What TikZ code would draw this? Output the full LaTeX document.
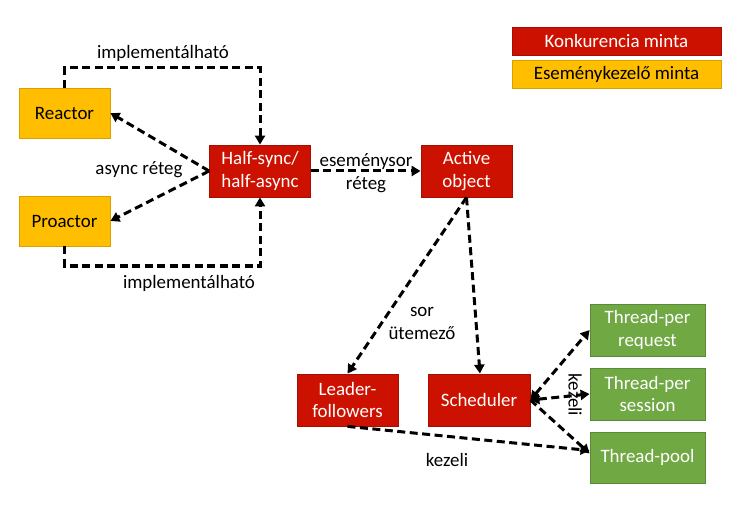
\documentclass[tikz,border=0pt]{standalone}
\usepackage{fontspec}
\setmainfont{Carlito}
\usetikzlibrary{arrows.meta}
\definecolor{konkred}{HTML}{CC1100}
\definecolor{konkedge}{HTML}{A50E00}
\definecolor{esemorange}{HTML}{FFBF00}
\definecolor{esemedge}{HTML}{D9A000}
\definecolor{thrgreen}{HTML}{70A844}
\definecolor{thredge}{HTML}{5A8A36}
\tikzset{
  box/.style={draw, line width=0.8bp, minimum width=#1, minimum height=52bp,
    inner sep=2bp, align=center},
  redbox/.style={box=101bp, fill=konkred, draw=konkedge, text=white},
  orangebox/.style={box=91bp, fill=esemorange, draw=esemedge, text=black},
  greenbox/.style={box=115bp, fill=thrgreen, draw=thredge, text=white},
  conn/.style={line width=3bp, dash pattern=on 8bp off 4.5bp},
  tip/.style={-{Triangle[length=9bp,width=10bp]}},
  bitip/.style={{Triangle[length=9bp,width=10bp]}-{Triangle[length=9bp,width=10bp]}},
  lbl/.style={text=black, align=center, inner sep=1bp}
}
\begin{document}
\begin{tikzpicture}[x=1bp,y=-1bp,font=\fontsize{19}{23}\selectfont]
\useasboundingbox (0,0) rectangle (732,507);

% legend
\node[box=209bp, minimum height=28bp, fill=konkred, draw=konkedge, text=white] (legk) at (616.5,41) {Konkurencia minta};
\node[box=209bp, minimum height=28bp, fill=esemorange, draw=esemedge] (lege) at (616.5,74) {Eseménykezelő minta};

% event handling patterns
\node[orangebox, minimum height=50bp] (reactor) at (64.5,113) {Reactor};
\node[orangebox, minimum height=50bp] (proactor) at (64.5,221) {Proactor};

% concurrency patterns
\node[redbox] (half) at (260,171) {Half-sync/\\half-async};
\node[redbox, minimum width=91bp] (active) at (466.5,171) {Active\\object};
\node[redbox] (leader) at (347.5,400) {Leader-\\followers};
\node[redbox, minimum width=102bp] (sched) at (479,400) {Scheduler};

% thread models
\node[greenbox] (treq) at (647.5,330) {Thread-per\\request};
\node[greenbox] (tses) at (647.5,394) {Thread-per\\session};
\node[greenbox, minimum height=51bp] (tpool) at (647.5,457.5) {Thread-pool};

% helper corners of the implementation links
\coordinate (topl) at (reactor.north |- 0,68);
\coordinate (botl) at (proactor.south |- 0,266);

\draw[conn,tip] (reactor.north) -- (topl) -- (topl -| half.north) -- (half.north);
\draw[conn,tip] (proactor.south) -- (botl) -- (botl -| half.south) -- (half.south);
\node[lbl] (impl1) at (163,53) {implementálható};
\node[lbl] (impl2) at (189,283) {implementálható};

\draw[conn,tip] (half.west) -- (reactor.east);
\draw[conn,tip] (half.west) -- (proactor.east);
\node[lbl] (async) at (139,169.5) {async réteg};

\draw[conn,tip] (half.east) -- (active.west);
\node[lbl] (esem) at (366,173) {eseménysor\\réteg};

\draw[conn,tip] (active.south) -- (leader.north);
\draw[conn,tip] (active.south) -- ([xshift=1bp]sched.north);
\node[lbl] (sor) at (422,323.5) {sor\\ütemező};

\draw[conn,bitip] (sched.east) -- (treq.west);
\draw[conn,bitip] (sched.east) -- (tses.west);
\draw[conn,tip] (sched.east) -- ([yshift=4bp]tpool.west);
\node[lbl, rotate=-90] (kez1) at (575,395) {kezeli};

\draw[conn,tip] (leader.south) -- ([yshift=7bp]tpool.west);
\node[lbl] (kez2) at (447,460) {kezeli};
\end{tikzpicture}
\end{document}
